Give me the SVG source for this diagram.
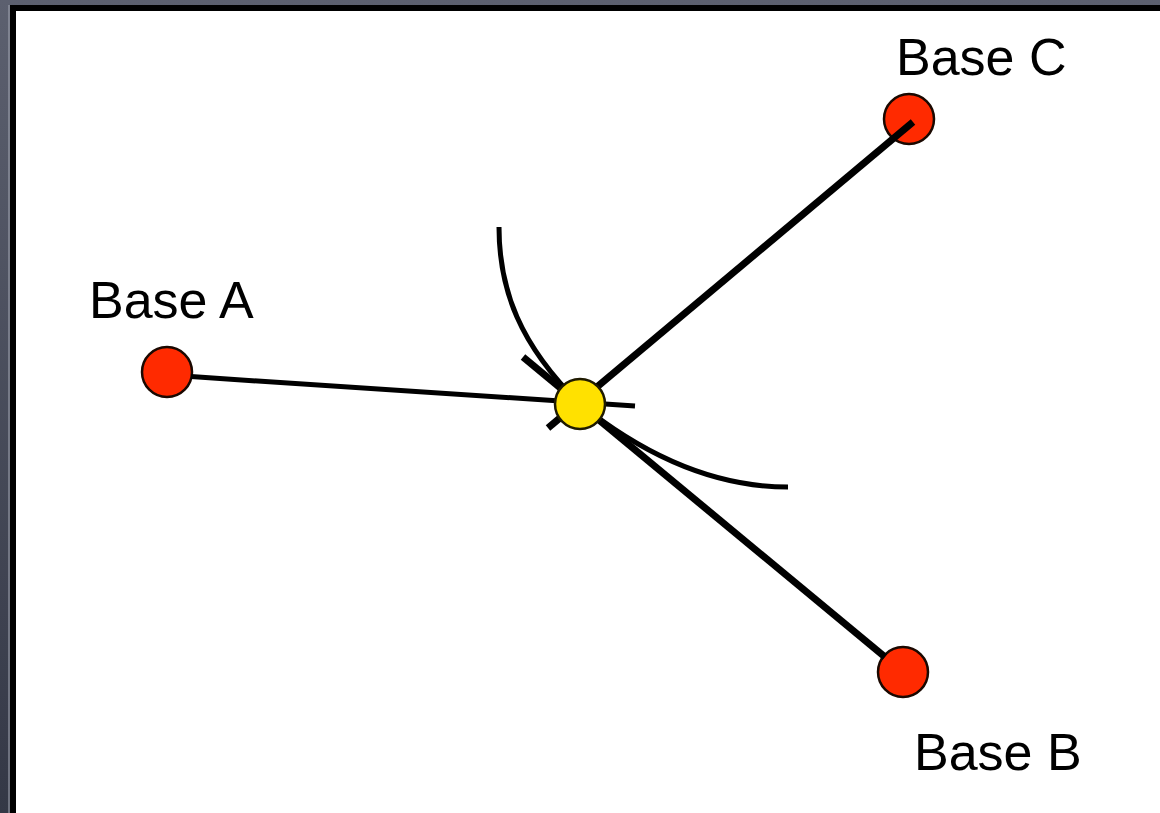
<svg xmlns="http://www.w3.org/2000/svg" width="1160" height="813" viewBox="0 0 1160 813">
  <defs>
    <linearGradient id="frameGrad" x1="0" y1="0" x2="0" y2="1">
      <stop offset="0" stop-color="#5c606f"/>
      <stop offset="1" stop-color="#343846"/>
    </linearGradient>
    <style>
      .label { font-family: "Liberation Sans", Arial, sans-serif; font-size: 52px; fill: #000; }
      .base { fill: #ff2a00; stroke: #1a0800; stroke-width: 2.5; }
      .fix { fill: #ffe100; stroke: #1f1a00; stroke-width: 2.5; }
      .link { stroke: #000; fill: none; stroke-linecap: butt; }
      .range { stroke: #000; fill: none; stroke-width: 5; stroke-linecap: butt; }
    </style>
  </defs>

  <!-- window frame -->
  <rect x="0" y="0" width="1160" height="813" fill="url(#frameGrad)"/>
  <line x1="9" y1="5" x2="9" y2="813" stroke="#a4a8b4" stroke-width="1"/>
  <rect x="10" y="5" width="1150" height="808" fill="#000"/>
  <rect x="16" y="11" width="1144" height="802" fill="#fff"/>

  <!-- base stations -->
  <g id="base-a">
    <circle class="base" cx="167" cy="372" r="25"/>
    <text class="label" x="89" y="318">Base A</text>
  </g>
  <g id="base-b">
    <circle class="base" cx="903" cy="672" r="25"/>
    <text class="label" x="914" y="770">Base B</text>
  </g>
  <g id="base-c">
    <circle class="base" cx="909" cy="119" r="25"/>
    <text class="label" x="896" y="75">Base C</text>
  </g>

  <!-- connectors and range arcs -->
  <g id="connectors">
    <line class="link" x1="191" y1="376.6" x2="635" y2="406" stroke-width="5"/>
    <line class="link" x1="548" y1="428" x2="913" y2="122" stroke-width="7"/>
    <line class="link" x1="523" y1="357" x2="885" y2="657" stroke-width="7"/>
    <path class="range" d="M499,227 C499,290 520,345 580,404"/>
    <path class="range" d="M580,404 C650,460 720,487 788,487"/>
  </g>

  <!-- estimated position -->
  <g id="position">
    <circle class="fix" cx="580" cy="404" r="25"/>
  </g>
</svg>
